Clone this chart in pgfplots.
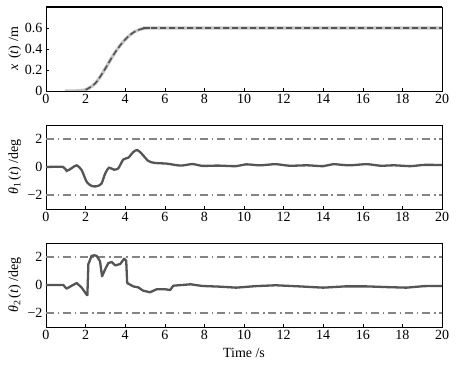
\documentclass[border=0pt]{standalone}
\usepackage{fontspec}
\setmainfont{Liberation Serif}
\usepackage{pgfplots}
\pgfplotsset{compat=1.18}
\definecolor{curve}{HTML}{555555}
\definecolor{refl}{HTML}{848484}
\definecolor{lgray}{HTML}{C4C4C4}
\pgfplotsset{
  every axis/.style={
    scale only axis, width=396pt, height=84pt,
    xmin=0, xmax=20, xtick={0,2,...,20},
    xtick pos=left, ytick pos=left,
    tick align=inside,
    major tick length=3pt,
    axis line style={line width=0.8pt},
    tick style={black, line width=0.6pt},
    /pgf/number format/assume math mode=true,
    tick label style={font=\fontsize{14}{16}\selectfont},
    label style={font=\fontsize{14}{16}\selectfont},
    ylabel style={at={(axis description cs:-0.079,0.5)}, anchor=center},
    xlabel style={yshift=-1pt},
  },
  refline/.style={refl, line width=1.6pt, dash pattern=on 8pt off 3.8pt on 1.5pt off 3.8pt},
  mainline/.style={curve, line width=2.3pt},
}
\begin{document}
\begin{tikzpicture}
\useasboundingbox (-46pt,-44pt) rectangle (412pt,327pt);
% Panel 1
\begin{axis}[at={(0pt,236pt)}, ymin=0, ymax=0.8, ytick={0,0.2,0.4,0.6},
  yticklabels={0,0.2,0.4,0.6},
  ylabel={\textit{x}\, (\textit{t}) /m}]
\addplot[lgray, line width=3.2pt, smooth, tension=0.5] coordinates {
(0.95,0) (1.5,0.001) (2,0.012) (2.25,0.037) (2.5,0.075) (2.75,0.14) (3,0.215)
(3.25,0.295) (3.5,0.37) (3.75,0.435) (4,0.49) (4.25,0.535) (4.5,0.567)
(4.75,0.587) (5,0.597) (5.25,0.6) (6,0.6) (20,0.6)};
\addplot[curve, line width=1.6pt, dash pattern=on 6pt off 3pt, smooth, tension=0.5] coordinates {
(2,0.012) (2.25,0.037) (2.5,0.075) (2.75,0.14) (3,0.215)
(3.25,0.295) (3.5,0.37) (3.75,0.435) (4,0.49) (4.25,0.535) (4.5,0.567)
(4.75,0.587) (5,0.597) (5.25,0.6) (6,0.6) (20,0.6)};
\draw[line width=2pt] (rel axis cs:0,1) -- (rel axis cs:1,1);
\end{axis}
% Panel 2
\begin{axis}[at={(0pt,118pt)}, ymin=-3, ymax=3, ytick={-2,0,2},
  yticklabels={−2,0,2},
  ylabel={\textit{θ}\textsubscript{1}\,(\textit{t}) /deg}]
\addplot[refline] coordinates {(0,2) (20,2)};
\addplot[refline] coordinates {(0,-2) (20,-2)};
\addplot[mainline, smooth, tension=0.45] coordinates {
(0,0) (0.87,0) (1.04,-0.28) (1.3,-0.08) (1.55,0.12) (1.8,-0.22) (2.05,-1.05)
(2.3,-1.35) (2.56,-1.38) (2.8,-1.19) (2.98,-0.5) (3.18,-0.05) (3.43,-0.19)
(3.65,-0.1) (3.9,0.53) (4.16,0.67) (4.41,1.07) (4.61,1.21) (4.83,0.95)
(5.17,0.43) (5.5,0.29) (6.1,0.24) (6.8,0.1) (7.4,0.21) (7.9,0.08) (8.7,0.1)
(9.6,0.06) (10.1,0.19) (10.8,0.12) (11.6,0.2) (12.3,0.09) (13.2,0.12)
(14,0.06) (14.5,0.2) (15.3,0.12) (16.2,0.2) (16.9,0.09) (17.6,0.12)
(18.4,0.06) (19.1,0.15) (20,0.14)};
\end{axis}
% Panel 3
\begin{axis}[at={(0pt,0pt)}, ymin=-3, ymax=3, ytick={-2,0,2},
  yticklabels={−2,0,2},
  ylabel={\textit{θ}\textsubscript{2}\,(\textit{t}) /deg},
  xlabel={Time /s}]
\addplot[refline] coordinates {(0,2) (20,2)};
\addplot[refline] coordinates {(0,-2) (20,-2)};
\addplot[mainline, line join=round] coordinates {
(0,0) (0.87,0) (1.04,-0.26) (1.3,-0.05) (1.55,0.14) (1.8,-0.18) (2.05,-0.69)
(2.09,-0.72) (2.14,1.5) (2.2,1.7) (2.3,2.08) (2.45,2.12) (2.56,2.08)
(2.73,1.69) (2.83,0.62) (2.98,1.1) (3.15,1.57) (3.32,1.64) (3.5,1.4)
(3.75,1.5) (3.95,1.88) (4.05,1.74) (4.1,0.14) (4.41,-0.1) (4.66,-0.17)
(4.9,-0.4) (5.25,-0.52) (5.6,-0.3) (6.0,-0.3) (6.27,-0.36) (6.43,-0.05)
(7.3,0.05) (7.9,-0.07) (8.8,-0.12) (9.6,-0.19) (10.6,-0.08) (11.6,-0.02)
(12.8,-0.1) (14,-0.19) (15.1,-0.1) (16.2,-0.1) (17.2,-0.15) (18.2,-0.19)
(19.1,-0.08) (20,-0.07)};
\end{axis}
\end{tikzpicture}
\end{document}
